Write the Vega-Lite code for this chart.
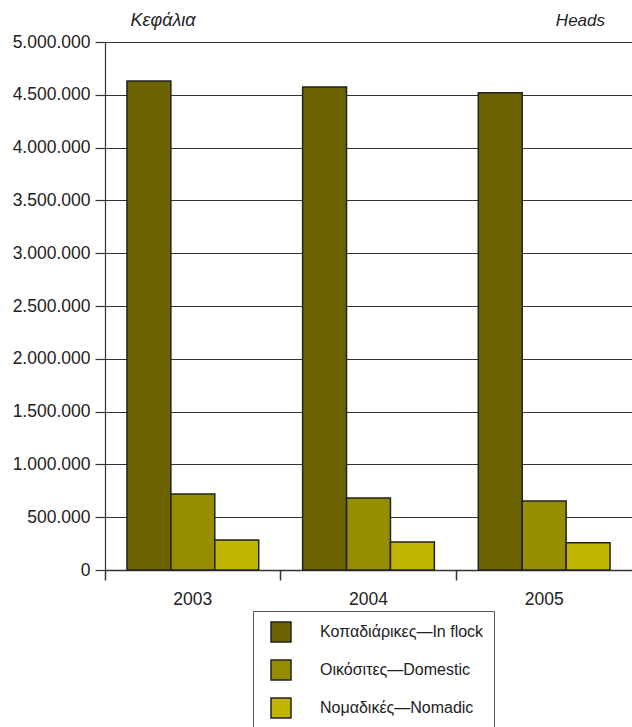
{
  "$schema": "https://vega.github.io/schema/vega-lite/v6.json",
  "width": 527,
  "height": 528,
  "autosize": {"type": "none"},
  "padding": {"left": 105, "top": 42, "right": 0, "bottom": 157},
  "background": "white",
  "title": {
    "text": "Heads",
    "anchor": "end",
    "frame": "group",
    "baseline": "alphabetic",
    "fontStyle": "italic",
    "fontWeight": "normal",
    "fontSize": 17,
    "font": "Liberation Sans",
    "color": "#222",
    "dx": -27,
    "offset": 0,
    "dy": 32
  },
  "data": {
    "values": [
      {"year": "2003", "type": "Κοπαδιάρικες—In flock", "heads": 4630000},
      {"year": "2003", "type": "Οικόσιτες—Domestic", "heads": 720000},
      {"year": "2003", "type": "Νομαδικές—Nomadic", "heads": 285000},
      {"year": "2004", "type": "Κοπαδιάρικες—In flock", "heads": 4575000},
      {"year": "2004", "type": "Οικόσιτες—Domestic", "heads": 683000},
      {"year": "2004", "type": "Νομαδικές—Nomadic", "heads": 265000},
      {"year": "2005", "type": "Κοπαδιάρικες—In flock", "heads": 4520000},
      {"year": "2005", "type": "Οικόσιτες—Domestic", "heads": 653000},
      {"year": "2005", "type": "Νομαδικές—Nomadic", "heads": 257000}
    ]
  },
  "mark": {"type": "bar", "stroke": "#222", "strokeWidth": 1.5},
  "encoding": {
    "x": {
      "field": "year",
      "type": "nominal",
      "scale": {"paddingInner": 0, "paddingOuter": 0},
      "axis": {
        "title": null,
        "labelAngle": 0,
        "labelFontSize": 17.5,
        "labelFont": "Liberation Sans",
        "labelColor": "#222",
        "labelPadding": 10,
        "bandPosition": 0,
        "ticks": true,
        "tickSize": 10,
        "tickColor": "#333",
        "tickWidth": 1.5,
        "domain": true,
        "domainColor": "#333",
        "domainWidth": 1.5,
        "grid": false
      }
    },
    "xOffset": {
      "field": "type",
      "type": "nominal",
      "sort": ["Κοπαδιάρικες—In flock", "Οικόσιτες—Domestic", "Νομαδικές—Nomadic"],
      "scale": {"paddingInner": 0, "paddingOuter": 0.5}
    },
    "y": {
      "field": "heads",
      "type": "quantitative",
      "scale": {"domain": [0, 5000000], "nice": false},
      "axis": {
        "title": "Κεφάλια",
        "titleAngle": 0,
        "titleAlign": "left",
        "titleBaseline": "alphabetic",
        "titleX": 25,
        "titleY": -17,
        "titleFontStyle": "italic",
        "titleFontWeight": "normal",
        "titleFontSize": 18,
        "titleFont": "Liberation Sans",
        "titleColor": "#222",
        "values": [0, 500000, 1000000, 1500000, 2000000, 2500000, 3000000, 3500000, 4000000, 4500000, 5000000],
        "format": ",d",
        "labelFontSize": 17.5,
        "labelFont": "Liberation Sans",
        "labelColor": "#222",
        "labelPadding": 5,
        "tickSize": 10,
        "tickColor": "#333",
        "tickWidth": 1.2,
        "domainColor": "#333",
        "domainWidth": 1.2,
        "grid": true,
        "gridColor": "#333",
        "gridWidth": 1.2,
        "gridOpacity": 1
      }
    },
    "color": {
      "field": "type",
      "type": "nominal",
      "sort": ["Κοπαδιάρικες—In flock", "Οικόσιτες—Domestic", "Νομαδικές—Nomadic"],
      "scale": {
        "domain": ["Κοπαδιάρικες—In flock", "Οικόσιτες—Domestic", "Νομαδικές—Nomadic"],
        "range": ["#6b6400", "#968e00", "#c1b400"]
      },
      "legend": {
        "title": null,
        "orient": "none",
        "legendX": 148,
        "legendY": 569,
        "direction": "vertical",
        "strokeColor": "#555",
        "padding": 10,
        "symbolType": "square",
        "symbolSize": 400,
        "symbolStrokeColor": "#222",
        "symbolStrokeWidth": 1.5,
        "symbolOpacity": 1,
        "symbolOffset": 7,
        "labelOffset": 28,
        "rowPadding": 12,
        "labelFontSize": 16,
        "labelFont": "Liberation Sans",
        "labelColor": "#222",
        "labelLimit": 300
      }
    }
  },
  "config": {
    "locale": {
      "number": {"decimal": ",", "thousands": ".", "grouping": [3], "currency": ["", " €"]}
    },
    "view": {"stroke": null}
  }
}
